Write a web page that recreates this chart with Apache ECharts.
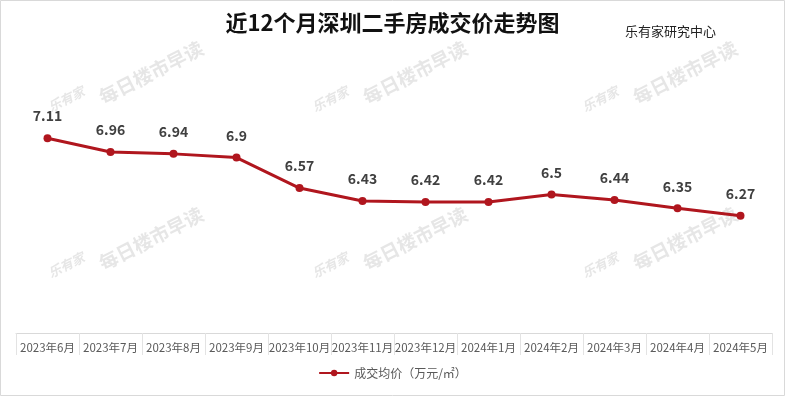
<!DOCTYPE html>
<html><head><meta charset="utf-8">
<script src="https://cdn.jsdelivr.net/npm/echarts@6/dist/echarts.min.js"></script>
<style>html,body{margin:0;padding:0;background:#fff}#c{width:785px;height:396px}</style>
</head><body><div id="c"></div>
<script>
const titleText = '近12个月深圳二手房成交价走势图';
const sourceText = '乐有家研究中心';
const seriesName = '成交均价（万元/㎡）';
const categories = ['2023年6月','2023年7月','2023年8月','2023年9月','2023年10月','2023年11月','2023年12月','2024年1月','2024年2月','2024年3月','2024年4月','2024年5月'];
const prices = [7.11, 6.96, 6.94, 6.9, 6.57, 6.43, 6.42, 6.42, 6.5, 6.44, 6.35, 6.27];

const FONT = '"Noto Sans CJK SC", "Microsoft YaHei", sans-serif';
const wmColor = 'rgba(200,200,200,0.45)';
const wmPos = [[46,102],[310,102],[580,102],[46,268],[310,268],[580,268]];
const wmGraphics = [];
wmPos.forEach(p => {
  wmGraphics.push({type:'text', x:p[0], y:p[1], rotation: 27*Math.PI/180, style:{text:'乐有家', font:'italic bold 13px ' + FONT, fill: wmColor}, z:0});
  wmGraphics.push({type:'text', x:p[0]+50, y:p[1]-12, rotation: 27*Math.PI/180, style:{text:'每日楼市早读', font:'bold 19px ' + FONT, fill: wmColor}, z:0});
});

const chart = echarts.init(document.getElementById('c'), null, {renderer:'canvas'});
chart.setOption({
  backgroundColor:'#fff',
  animation:false,
  textStyle:{fontFamily: FONT},
  title:[
    {text:titleText, left:'center', top:7, textStyle:{fontSize:22, fontWeight:'bold', color:'#111', fontFamily:FONT}},
    {text:sourceText, left:620, top:20, textStyle:{fontSize:13, fontWeight:'normal', color:'#222', fontFamily:FONT}}
  ],
  graphic: wmGraphics.concat([
    {type:'rect', shape:{x:0.5, y:0.5, width:784, height:395}, style:{fill:'none', stroke:'#d9d9d9', lineWidth:1}, z:-1}
  ]),
  grid:{left:16, right:13, top:56, bottom:63},
  legend:{
    bottom:12, left:'center', itemWidth:30, itemHeight:8, itemGap:4,
    textStyle:{fontSize:12, color:'#595959', fontFamily:FONT},
    data:[seriesName]
  },
  xAxis:{
    type:'category', data:categories, boundaryGap:true,
    axisLine:{lineStyle:{color:'#d9d9d9', width:1}},
    axisTick:{show:true, length:22, lineStyle:{color:'#e3e3e3'}},
    axisLabel:{interval:0, fontSize:11.5, color:'#595959', margin:9, fontFamily:FONT}
  },
  yAxis:{type:'value', min:5, max:8, show:false, splitLine:{show:false}},
  series:[{
    name:seriesName, type:'line', data:prices,
    symbol:'circle', symbolSize:8,
    lineStyle:{color:'#b0161e', width:3},
    itemStyle:{color:'#b0161e'},
    label:{show:true, position:'top', distance:11, fontSize:14, fontWeight:'bold', color:'#404040', fontFamily:FONT},
    z:5
  }]
});
</script></body></html>
